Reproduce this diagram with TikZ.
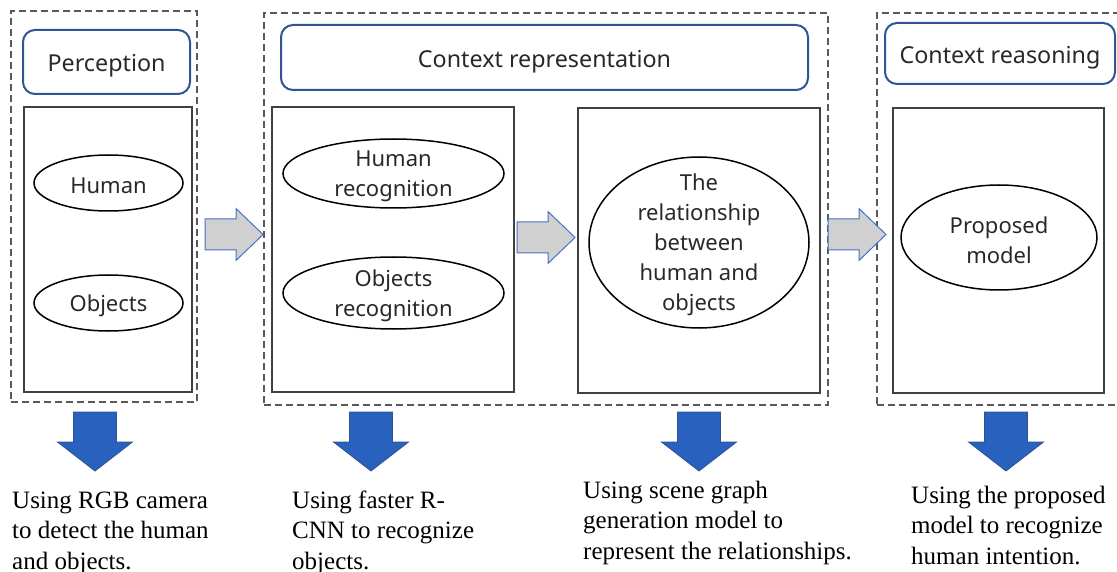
\documentclass[tikz,border=0pt]{standalone}
\usepackage{fontspec}
\setmainfont{Liberation Serif}
\newfontfamily\labelfont[Ligatures=NoCommon]{Noto Sans}
\usetikzlibrary{shapes.geometric}

\definecolor{stageblue}{RGB}{47,85,151}
\definecolor{flowgray}{RGB}{208,208,208}
\definecolor{flowedge}{RGB}{68,114,196}
\definecolor{downblue}{RGB}{40,98,190}
\definecolor{downedge}{RGB}{47,82,143}
\definecolor{ink}{RGB}{40,40,40}

\begin{document}
\begin{tikzpicture}[x=1pt,y=-1pt,
  group/.style={draw=black!65, dash pattern=on 7pt off 4pt, line width=1.1pt, inner sep=0pt},
  stage/.style={draw=stageblue, line width=2pt, rounded corners=12pt, inner sep=0pt,
    font=\labelfont\fontsize{23.3}{27}\selectfont, text=ink, text height=25pt, text depth=5pt},
  panel/.style={draw=black!75, line width=1.1pt, inner sep=0pt},
  oval/.style={draw=black, line width=1.5pt, ellipse, inner sep=0pt},
  otext/.style={font=\labelfont\fontsize{22}{30}\selectfont, align=center, text=ink, inner sep=0pt, yshift=-2.5pt},
  note/.style={font=\fontsize{25}{30.5}\selectfont, align=left, anchor=base west, inner sep=0pt},
  flow/.style={fill=flowgray, draw=flowedge, line width=1pt},
  down/.style={fill=downblue, draw=downedge, line width=0.8pt},
  flowarrow/.pic={\draw[flow] (0,-15.5) -- (31,-15.5) -- (31,-26) -- (58,0) -- (31,26) -- (31,15.5) -- (0,15.5) -- cycle;},
  downarrow/.pic={\draw[down] (-21.5,0) -- (21.5,0) -- (21.5,30) -- (37.5,30) -- (0,59) -- (-37.5,30) -- (-21.5,30) -- cycle;},
]
\clip (0,0) rectangle (1117,572);

% dashed stage groups
\node[group, minimum width=186, minimum height=391] (g1) at (104,206.5) {};
\node[group, minimum width=564, minimum height=392] (g2) at (546,209) {};
\node[group, minimum width=250, minimum height=392] (g3) at (1002,209) {};

% stage titles
\node[stage, minimum width=167, minimum height=64] (perc) at (106.5,62) {Perception};
\node[stage, minimum width=527, minimum height=65] (crep) at (544.5,57.5) {Context representation};
\node[stage, minimum width=230, minimum height=61] (creas) at (1000,53.5) {Context reasoning};

% inner panels
\node[panel, minimum width=168, minimum height=285] (p1) at (108,249.5) {};
\node[panel, minimum width=242, minimum height=285] (p2) at (393,249.5) {};
\node[panel, minimum width=242, minimum height=285] (p3) at (699,250.5) {};
\node[panel, minimum width=211, minimum height=285] (p4) at (998.5,250.5) {};

% ovals and their labels
\node[oval, minimum width=149, minimum height=56] (human) at (108.5,183) {};
\node[otext] at (human) {Human};
\node[oval, minimum width=149, minimum height=56] (objects) at (108.5,303) {};
\node[otext] at (objects) {Objects};
\node[oval, minimum width=221, minimum height=69] (hrec) at (393.5,173.5) {};
\node[otext] at (hrec) {Human\\recognition};
\node[oval, minimum width=221, minimum height=72] (orec) at (393.5,293) {};
\node[otext] at (orec) {Objects\\recognition};
\node[oval, minimum width=220, minimum height=171] (rel) at (699,242.5) {};
\node[otext] at (rel) {The\\relationship\\between\\human and\\objects};
\node[oval, minimum width=196, minimum height=105] (prop) at (999,237.5) {};
\node[otext] at (prop) {Proposed\\model};

% flow between stages
\pic at (205,234.5) {flowarrow};
\pic at (517,237.5) {flowarrow};
\pic at (828,234.5) {flowarrow};

% downward arrows to the method notes
\pic at (95,412) {downarrow};
\pic at (371,412) {downarrow};
\pic at (699,412) {downarrow};
\pic at (1006,412) {downarrow};

% method notes (anchored on the baseline of their last line)
\node[note] (n1) at (12,569) {Using RGB camera\\to detect the human\\and objects.};
\node[note] (n2) at (292,569) {Using faster R-\\CNN to recognize\\objects.};
\node[note] (n3) at (583,559) {Using scene graph\\generation model to\\represent the relationships.};
\node[note] (n4) at (911,564) {Using the proposed\\model to recognize\\human intention.};
\end{tikzpicture}
\end{document}
